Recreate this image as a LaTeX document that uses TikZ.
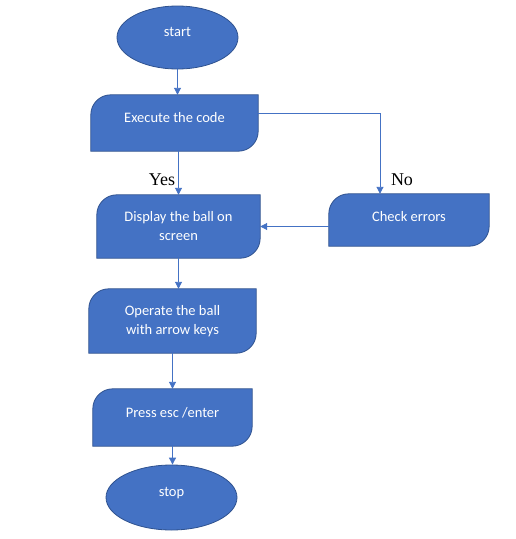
\documentclass[tikz,border=0pt]{standalone}
\usepackage{fontspec}
\setmainfont{Carlito}
\newfontfamily\answerfont{Liberation Serif}
\usetikzlibrary{arrows.meta, shapes.geometric, backgrounds}
\definecolor{flowblue}{HTML}{4472C4}
\definecolor{flowedge}{HTML}{2F528F}

\begin{document}
\begin{tikzpicture}[%
        x = 1pt,
        y = -1pt,
        > = {Triangle[length = 7pt, width = 7pt]},
        font = \fontsize{14.5}{19}\selectfont,
        flow/.style = {text = white, align = center, inner sep = 0pt},
        lifted/.style = {text depth = 11pt},
        terminal/.style = {flow, lifted, ellipse, fill = flowblue, draw = flowedge, line width = 0.8pt},
        stepbox/.style = {flow},
        boxshape/.style = {fill = flowblue, draw = flowedge, line width = 0.8pt},
        link/.style = {->, draw = flowblue, line width = 0.9pt},
        answer/.style = {font = \answerfont\fontsize{18}{20}\selectfont}
    ]

        % Fix the page to the size of the reference.
        \useasboundingbox (0, 0) rectangle (515, 539);

        % The start and stop ellipses.
        \node[terminal, minimum width = 121pt, minimum height = 63pt] (start) at (177.5, 37.5) {start};
        \node[terminal, minimum width = 131pt, minimum height = 65pt] (stop) at (171.5, 497.5) {stop};

        % The process steps. Their shapes are drawn further down.
        \node[stepbox, lifted, minimum width = 167pt, minimum height = 56pt] (exec) at (174.5, 123) {Execute the code};
        \node[stepbox, minimum width = 163pt, minimum height = 63pt] (disp) at (178.5, 226.5) {Display the ball on\\screen};
        \node[stepbox, text depth = 7pt, minimum width = 160pt, minimum height = 52pt] (check) at (409, 220) {Check errors};
        \node[stepbox, minimum width = 167pt, minimum height = 64pt] (oper) at (172.5, 321) {Operate the ball\\with arrow keys};
        \node[stepbox, lifted, minimum width = 159pt, minimum height = 57pt] (press) at (172.5, 417.5) {Press esc /enter};

        % Round off the top left and bottom right corner of every step.
        \begin{scope}[on background layer]
            \foreach \n in {exec, disp, check, oper, press}{%
                \draw[boxshape] (\n.south west) [rounded corners = 20pt] -- (\n.north west)
                    [sharp corners] -- (\n.north east) [rounded corners = 20pt] -- (\n.south east)
                    [sharp corners] -- cycle;
            }
        \end{scope}

        % The answers on the two branches.
        \node[answer] (yes) at (162, 180) {Yes};
        \node[answer] (no) at (402, 180) {No};

        % Connect the steps.
        \draw[link] (start) -- (start |- exec.north);
        \draw[link] (exec.south -| disp.north) -- (disp.north);
        \draw[link] ([yshift = 10pt]exec.east) -| ([xshift = -29pt]check.north);
        \draw[link] (check.west |- disp.east) -- (disp.east);
        \draw[link] (disp.south) -- (disp.south |- oper.north);
        \draw[link] (oper.south) -- (oper.south |- press.north);
        \draw[link] (press.south) -- (press.south |- stop.north);
    \end{tikzpicture}
\end{document}
